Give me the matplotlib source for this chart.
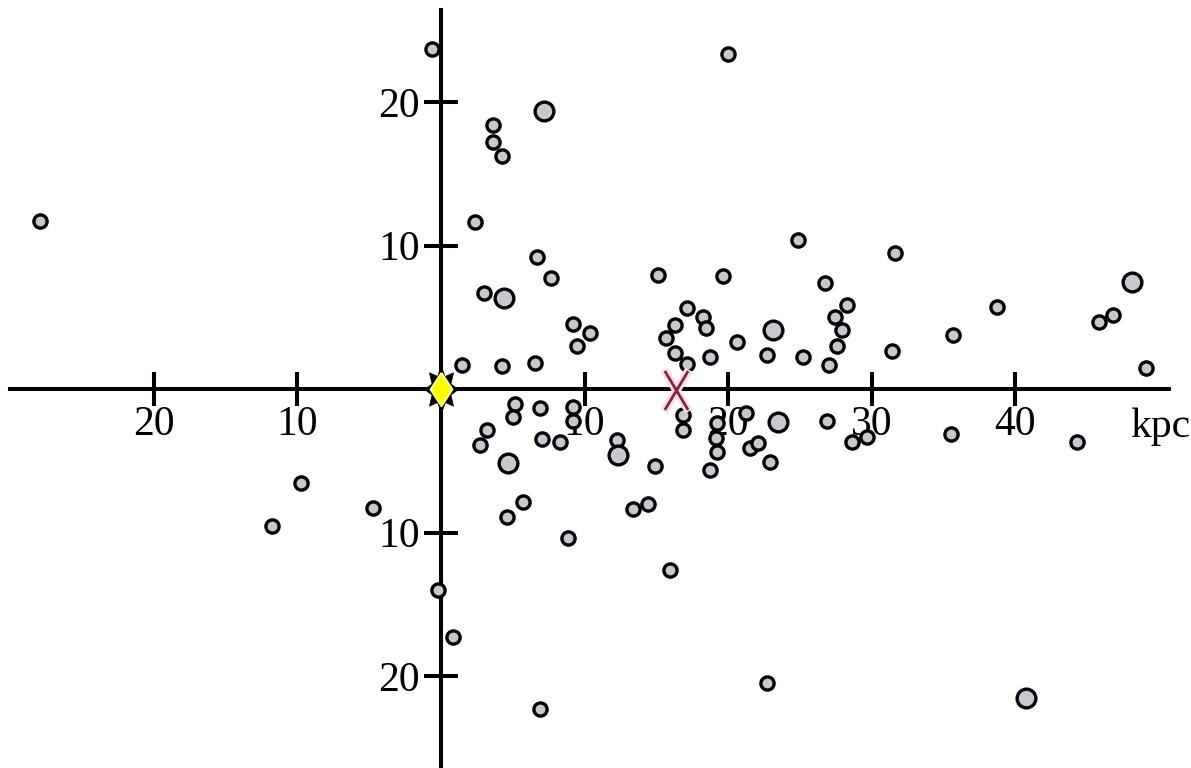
import matplotlib
matplotlib.use("Agg")
import matplotlib.pyplot as plt
from matplotlib.path import Path
import numpy as np

# galaxy positions in kpc
small_x = [-27.94, -0.63, -9.76, -11.78, -4.74, -0.21, 0.84, 6.90,
           3.62, 3.62, 4.25, 2.37, 6.69, 7.67, 3.00, 9.20, 10.38, 9.48,
           1.46, 4.25, 6.55, 15.12, 19.65, 17.14, 18.26, 18.47, 16.31, 15.68,
           16.31, 17.14, 18.75, 20.63, 22.72, 25.23, 26.76, 28.29, 27.46, 27.94,
           27.60, 27.04, 24.88, 31.64, 31.43, 35.68, 38.75, 46.83, 45.85, 49.13,
           20.00, 5.16, 5.02, 6.90, 3.21, 2.72, 7.04, 8.29, 9.20, 9.20,
           12.26, 14.91, 16.86, 16.86, 19.23, 19.16, 19.23, 18.75, 21.25, 21.53,
           22.09, 22.93, 26.90, 28.64, 29.69, 35.54, 44.32, 5.71, 4.60, 13.38,
           14.43, 8.85, 15.96, 22.72]
small_y = [11.71, 23.69, -6.55, -9.55, -8.29, -14.01, -17.28, -22.30,
           18.40, 17.21, 16.24, 11.64, 9.20, 7.74, 6.69, 4.53, 3.90, 3.00,
           1.67, 1.60, 1.81, 7.94, 7.87, 5.64, 5.02, 4.25, 4.46, 3.55,
           2.51, 1.74, 2.23, 3.28, 2.37, 2.23, 7.39, 5.85, 5.02, 4.11,
           3.00, 1.67, 10.38, 9.48, 2.65, 3.76, 5.71, 5.16, 4.67, 1.46,
           23.34, -1.05, -1.95, -1.32, -2.86, -3.90, -3.48, -3.69, -1.25, -2.23,
           -3.55, -5.37, -1.81, -2.86, -2.37, -3.41, -4.39, -5.64, -1.67, -4.11,
           -3.76, -5.09, -2.23, -3.69, -3.34, -3.14, -3.69, -7.87, -8.92, -8.36,
           -8.01, -10.38, -12.61, -20.49]

big_x = [7.18, 4.39, 23.14, 48.15, 4.67, 12.33, 23.48, 40.77]
big_y = [19.37, 6.34, 4.11, 7.46, -5.16, -4.60, -2.30, -21.53]

sun_x, sun_y = 0.0, 0.0
centre_x, centre_y = 16.4, -0.1

x_ticks = [-20, -10, 10, 20, 30, 40]
x_labels = ["20", "10", "10", "20", "30", "40"]
y_ticks = [-20, -10, 10, 20]
y_labels = ["20", "10", "10", "20"]

plt.rcParams['font.family'] = ['Liberation Serif', 'DejaVu Serif']

fig = plt.figure(figsize=(11.91, 7.68), dpi=100)
ax = fig.add_axes([0, 0, 1, 1])
ax.set_xlim(-30.73, 52.26)
ax.set_ylim(-26.41, 27.11)

for s in ['top', 'right']:
    ax.spines[s].set_visible(False)
ax.spines['bottom'].set_position(('data', 0))
ax.spines['left'].set_position(('data', 0))
ax.spines['bottom'].set_bounds(-30.0, 50.7)
ax.spines['left'].set_bounds(-26.41, 26.4)
for s in ['bottom', 'left']:
    ax.spines[s].set_linewidth(2.9)
    ax.spines[s].set_color('black')

ax.set_xticks(x_ticks, x_labels)
ax.set_yticks(y_ticks, y_labels)
ax.tick_params(axis='both', direction='inout', length=24, width=2.9,
               labelsize=30, color='black')
ax.tick_params(axis='x', pad=0)
ax.tick_params(axis='y', pad=3)

ax.text(48.0, -2.6, "kpc", fontsize=30, ha='left', va='center')

ax.plot(small_x, small_y, 'o', ms=9.5, mfc='#c8c8d0', mec='black', mew=2.4,
        zorder=3, clip_on=False)
ax.plot(big_x, big_y, 'o', ms=13.5, mfc='#c8c8d0', mec='black', mew=2.4,
        zorder=3, clip_on=False)

# the sun: tall yellow diamond with a spiky black rim
ang = np.linspace(0, 2 * np.pi, 17)[:-1] + np.pi / 2
rad = np.where(np.arange(16) % 2 == 0, 1.0, 0.6)
spikes = Path(np.column_stack([0.72 * rad * np.cos(ang), rad * np.sin(ang)]),
              closed=False)
diamond = Path([(0, 1), (0.65, 0), (0, -1), (-0.65, 0), (0, 1)])
ax.plot(sun_x, sun_y, marker=spikes, ms=34, mfc='black', mec='black',
        mew=0.5, zorder=4)
ax.plot(sun_x, sun_y, marker=diamond, ms=24, mfc='yellow', mec='#ffff90',
        mew=1.5, zorder=5)

# galactic centre: red cross with a pink halo
cross = Path([(-0.6, -1), (0.6, 1), (-0.6, 1), (0.6, -1)],
             [Path.MOVETO, Path.LINETO, Path.MOVETO, Path.LINETO])
ax.plot(centre_x, centre_y, marker=cross, ms=30, mec='#fbe0ea', mew=6,
        ls='none', zorder=5)
ax.plot(centre_x, centre_y, marker=cross, ms=28, mec='#8c2040', mew=2.0,
        ls='none', zorder=6)

fig.savefig("out.png", dpi=100, facecolor='white')
